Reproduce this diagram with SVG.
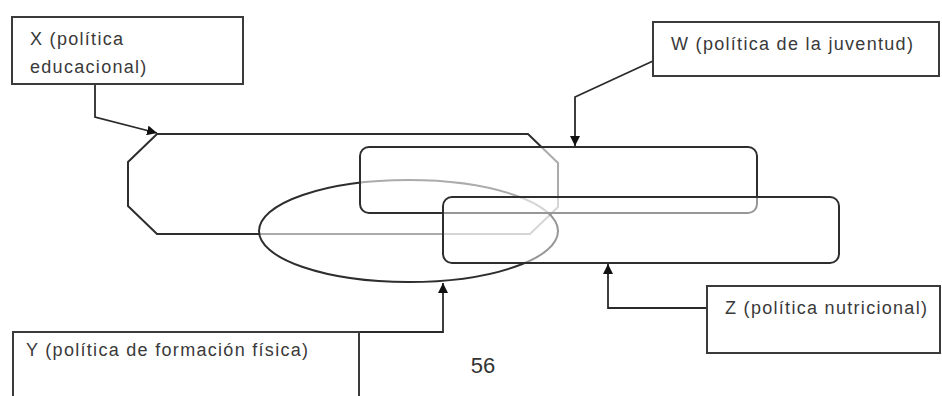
<svg xmlns="http://www.w3.org/2000/svg" width="942" height="396" viewBox="0 0 942 396">
<defs>
<style>
.box{fill:#fff;stroke:#3a3a3a;stroke-width:2}
.shape{stroke:#2e2e2e;stroke-width:2}
.lbl{font-family:"Liberation Sans",Arial,sans-serif;font-size:18px;fill:#3a3a3a;letter-spacing:1.3px}
.con{fill:none;stroke:#2a2a2a;stroke-width:1.8}
</style>
<marker id="ah" viewBox="0 0 10 10" refX="10" refY="5" markerWidth="10" markerHeight="10" markerUnits="userSpaceOnUse" orient="auto">
<path d="M0,0 L10,5 L0,10 z" fill="#111"/>
</marker>
</defs>
<rect width="942" height="396" fill="#fff"/>
<g id="shapes">
<g id="octagonX"><path class="shape" fill="none" d="M157,134 L528,134 L558,163 L558,207 L530,234 L157,234 L128,206 L128,162 Z"/></g>
<g id="ellipseY"><ellipse class="shape" cx="408.5" cy="231" rx="149.5" ry="51" fill="#fff" fill-opacity="0.6"/></g>
<g id="rectW"><rect class="shape" x="360" y="147" width="397" height="66" rx="9" fill="#fff" fill-opacity="0.6"/></g>
<g id="rectZ"><rect class="shape" x="443" y="197" width="396" height="66" rx="9" fill="#fff" fill-opacity="0.5"/></g>
</g>
<g id="connectors">
<path class="con" d="M95,84 L95,117 L157,133" marker-end="url(#ah)"/>
<path class="con" d="M653,61 L575,97 L575,146" marker-end="url(#ah)"/>
<path class="con" d="M359,332 L443,332 L443,283" marker-end="url(#ah)"/>
<path class="con" d="M707,308 L608,308 L608,264" marker-end="url(#ah)"/>
</g>
<g id="nodeX">
<rect class="box" x="12" y="17" width="231" height="67"/>
<text class="lbl" x="30" y="45">X (política</text>
<text class="lbl" x="30" y="73">educacional)</text>
</g>
<g id="nodeW">
<rect class="box" x="653" y="22" width="286" height="54"/>
<text class="lbl" x="671" y="50">W (política de la juventud)</text>
</g>
<g id="nodeY">
<rect class="box" x="13" y="332" width="346" height="80"/>
<text class="lbl" x="26" y="356">Y (política de formación física)</text>
</g>
<g id="nodeZ">
<rect class="box" x="707" y="286" width="233" height="67"/>
<text class="lbl" x="725" y="314">Z (política nutricional)</text>
</g>
<text x="483" y="373" text-anchor="middle" font-family="Liberation Sans,Arial,sans-serif" font-size="22" fill="#333">56</text>
</svg>
